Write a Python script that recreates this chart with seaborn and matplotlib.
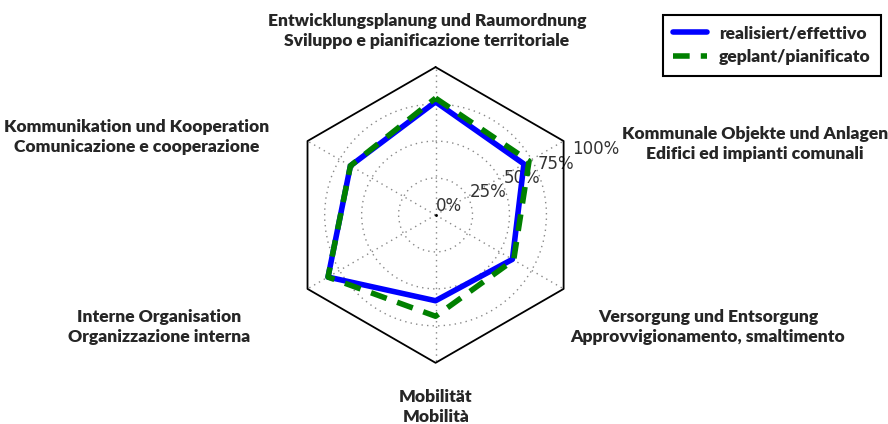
import numpy as np
import pandas as pd
import seaborn as sns
import matplotlib.pyplot as plt

# DATA
categories = [
    "Entwicklungsplanung und Raumordnung\nSviluppo e pianificazione territoriale",
    "Kommunale Objekte und Anlagen\nEdifici ed impianti comunali",
    "Versorgung und Entsorgung\nApprovvigionamento, smaltimento",
    "Mobilität\nMobilità",
    "Interne Organisation\nOrganizzazione interna",
    "Kommunikation und Kooperation\nComunicazione e cooperazione",
]
realisiert = [0.765, 0.69, 0.60, 0.58, 0.84, 0.665]
geplant = [0.79, 0.73, 0.61, 0.685, 0.84, 0.665]
r_ticks = [0, 0.25, 0.5, 0.75, 1.0]
r_labels = ["0%", "25%", "50%", "75%", "100%"]
series_names = ["realisiert/effettivo", "geplant/pianificato"]

sns.set_style("white")
plt.rcParams["font.family"] = ["DejaVu Sans"]

n = len(categories)
theta = np.arange(n) * 2 * np.pi / n
# last point at 2*pi so seaborn doesn't merge it with theta=0
theta_closed = np.append(theta, 2 * np.pi)

fig = plt.figure(figsize=(8.88, 4.24), dpi=100)
ax = fig.add_axes([0.324, 0.144, 0.333, 0.698], projection="polar")
ax.set_theta_offset(np.pi / 2)
ax.set_theta_direction(-1)

df_real = pd.DataFrame({"theta": theta_closed, "r": realisiert + realisiert[:1]})
df_plan = pd.DataFrame({"theta": theta_closed, "r": geplant + geplant[:1]})

sns.lineplot(data=df_real, x="theta", y="r", sort=False, ax=ax, color="#0000ff",
             lw=4, label=series_names[0], legend=False)
sns.lineplot(data=df_plan, x="theta", y="r", sort=False, ax=ax, color="#008000",
             lw=4, linestyle=(0, (3, 2)), label=series_names[1], legend=False)

# hexagon frame instead of the round spine
ax.spines["polar"].set_visible(False)
ax.plot(theta_closed, [1.0] * (n + 1), color="black", lw=1.3, clip_on=False, zorder=5)

ax.set_ylim(0, 1)
ax.set_xticks(theta)
ax.set_xticklabels([])
ax.set_yticks(r_ticks)
ax.set_yticklabels(r_labels, fontsize=12, color="#333333")
ax.set_rlabel_position(67.5)
ax.set_xlabel("")
ax.set_ylabel("")
ax.grid(True, color="#888888", linestyle=(0, (1, 3)), lw=1.0)
ax.yaxis.get_gridlines()[-1].set_visible(False)
ax.plot([0], [0], "k.", ms=2)

# category labels (pixel positions from the reference)
label_pos = [(427, 31), (755, 144), (708, 327), (436, 407), (159, 327), (137, 137)]
for text, (px, py) in zip(categories, label_pos):
    fig.text(px / 888, 1 - py / 424, text, ha="center", va="center",
             fontsize=12.6, fontweight="heavy", family=["Lato", "DejaVu Sans"],
             linespacing=1.25)

leg = fig.legend(loc="upper right", bbox_to_anchor=(881 / 888, 1 - 15 / 424),
                 prop={"family": ["Lato", "DejaVu Sans"], "weight": "heavy", "size": 12.6},
                 frameon=True, fancybox=False, framealpha=1, edgecolor="black",
                 handlelength=1.9, handletextpad=0.7, borderpad=0.6,
                 labelspacing=0.45, borderaxespad=0)
leg.get_frame().set_linewidth(1.5)

plt.savefig("out.png", dpi=100)
plt.close()
